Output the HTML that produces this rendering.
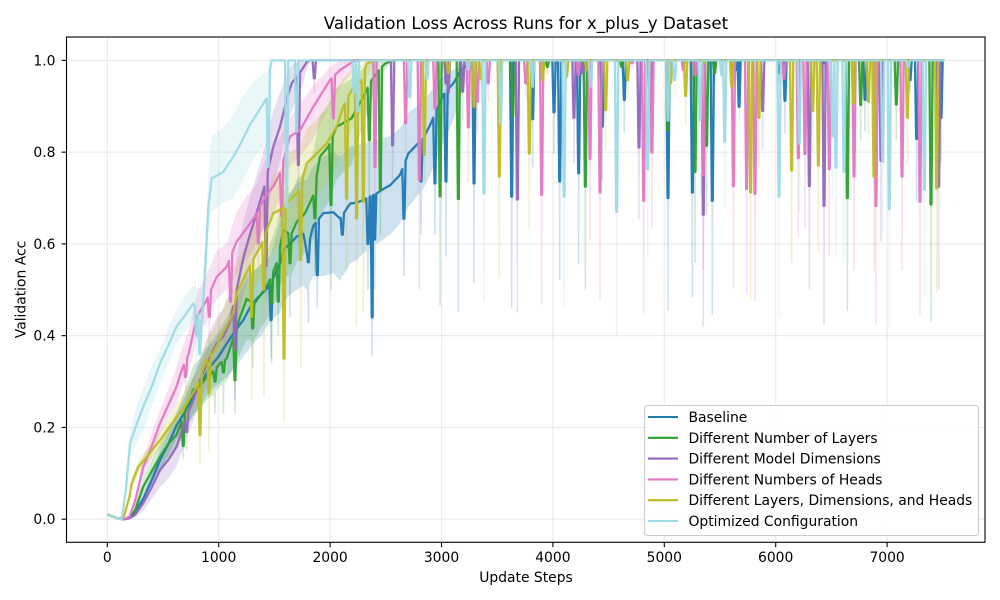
<!DOCTYPE html>
<html>
<head>
<meta charset="utf-8">
<title>Validation Loss Across Runs</title>
<style>
html,body{margin:0;padding:0;background:#fff;}
svg{display:block;}
text{font-family:"DejaVu Sans","Liberation Sans",sans-serif;fill:#000;}
</style>
</head>
<body>
<svg id="chart" xmlns="http://www.w3.org/2000/svg" width="1000" height="600" viewBox="0 0 1000 600">
  <rect x="0" y="0" width="1000" height="600" fill="#fff"/>
  <g id="grid"></g>
  <g id="bands"></g>
  <g id="lines"></g>
  <rect x="66.5" y="37" width="918.5" height="505.3" fill="none" stroke="#000" stroke-width="1.1"/>
  <g id="ticks"></g>
  <text x="526" y="29" text-anchor="middle" font-size="16.67">Validation Loss Across Runs for x_plus_y Dataset</text>
  <text x="526" y="582" text-anchor="middle" font-size="13.89">Update Steps</text>
  <text transform="translate(25.5,289.5) rotate(-90)" text-anchor="middle" font-size="13.89">Validation Acc</text>
  <g id="legend">
    <rect x="644.5" y="405.5" width="334" height="130" rx="3" ry="3" fill="#fff" fill-opacity="0.8" stroke="#ccc" stroke-width="1.1"/>
  </g>
</svg>
<script>
const seriesNames = ['Baseline','Different Number of Layers','Different Model Dimensions','Different Numbers of Heads','Different Layers, Dimensions, and Heads','Optimized Configuration'];
const seriesSlugs = ['baseline','layers','dimensions','heads','combined','optimized'];
const seriesColors = ['#1f77b4','#2ca02c','#9467bd','#e377c2','#bcbd22','#9edae5'];
const xTickValues = [0,1000,2000,3000,4000,5000,6000,7000];
const yTickValues = [0,0.2,0.4,0.6,0.8,1.0];
const yTickLabels = ['0.0','0.2','0.4','0.6','0.8','1.0'];
const finalStep = 7513;

const baselineSteps = [0,50,100,150,200,250,323,400,473,550,622,700,772,850,922,1000,1072,1146,1221,1300,1380,1460,1550,1580,1640,1700,1760,1790,1850,1940,2030,2090,2180,2240,2298,2418,2480,2540,2627,2702,2777,2837,2897,3016,3106,3166,3230,3300];
const baselineMean = [.01,.006,.001,0,.003,.015,.045,.085,.129,.165,.205,.235,.267,.30,.332,.355,.383,.41,.434,.47,.49,.51,.558,.587,.60,.616,.622,.583,.64,.667,.669,.655,.688,.69,.696,.71,.72,.728,.75,.797,.816,.83,.859,.925,.95,.975,.99,1];
const baselineLow = [.008,.004,0,0,.001,.008,.035,.07,.105,.14,.175,.2,.225,.25,.28,.295,.31,.33,.355,.38,.40,.43,.45,.47,.49,.50,.51,.50,.53,.53,.536,.52,.558,.565,.58,.60,.61,.62,.645,.68,.703,.72,.75,.82,.87,.914,.96,1];
const baselineHigh = [.012,.008,.002,0,.005,.022,.055,.10,.15,.19,.235,.27,.31,.35,.385,.41,.44,.475,.51,.54,.555,.57,.65,.68,.71,.732,.74,.74,.77,.79,.80,.79,.812,.815,.82,.826,.83,.835,.852,.885,.9,.915,.93,.965,.98,.986,1,1];
const baselineDipSteps = [1470,1805,1885,2110,2340,2378,2400,2663,2816,2941,3040,3292,3630,3818,4010,4061,4231,4444,4641,5033,5252,5431,5656,5671,6030,6083,6434,6802,7206,7265,7484];
const baselineDipMean = [.434,.56,.532,.62,.60,.44,.61,.655,.736,.732,.736,.732,.703,.872,.887,.736,.754,.856,.914,.7,.712,.694,.979,.899,.972,.912,.994,.914,.957,.829,.875];
const baselineDipLow = [.35,.427,.46,.53,.5,.355,.5,.53,.62,.62,.572,.515,.461,.767,.796,.521,.556,.738,.843,.454,.484,.445,.95,.821,.95,.841,.98,.845,.93,.692,.777];

const layersSteps = [0,50,100,150,200,250,323,400,473,550,622,700,772,832,892,952,1012,1072,1191,1251,1320,1386,1445,1520,1580,1650,1700,1775,1850,1909,1984,2058,2130,2193,2283,2343,2373,2439,2493,2567];
const layersMean = [.01,.006,.001,0,.004,.02,.071,.105,.136,.165,.184,.235,.282,.29,.31,.322,.34,.35,.44,.48,.47,.492,.514,.558,.63,.62,.648,.667,.706,.79,.812,.855,.865,.874,.914,.943,.957,.979,.993,1];
const layersLow = [.008,.004,0,0,.002,.012,.055,.085,.11,.135,.155,.19,.23,.24,.26,.27,.29,.30,.36,.39,.39,.42,.44,.48,.53,.53,.56,.58,.61,.66,.69,.74,.76,.77,.85,.89,.92,.95,.98,1];
const layersHigh = [.012,.008,.002,0,.006,.03,.09,.13,.165,.195,.225,.285,.335,.35,.375,.385,.41,.42,.50,.53,.54,.56,.59,.64,.72,.71,.74,.76,.80,.88,.90,.94,.95,.96,.98,.99,1,1,1,1];
const layersDipSteps = [682,967,1042,1146,1305,1475,1535,1640,1864,2008,2352,2451,2987,3151,3639,3950,4291,4617,5033,5276,5380,5452,6643,6763,7083,7394];
const layersDipMean = [.16,.30,.32,.303,.416,.47,.474,.558,.656,.685,.826,.717,.704,.698,.877,.986,.725,.986,.848,.757,.814,.972,.7,.903,.904,.686];
const layersDipLow = [.13,.23,.23,.23,.33,.34,.4,.44,.54,.5,.68,.62,.465,.452,.82,.97,.5,.97,.8,.559,.664,.95,.454,.825,.826,.43];

const dimensionsSteps = [0,50,100,150,200,250,323,400,473,550,622,712,772,832,922,982,1042,1101,1161,1221,1280,1340,1410,1490,1550,1610,1655,1745,1790,1820];
const dimensionsMean = [.01,.006,.001,0,.002,.01,.035,.07,.107,.13,.158,.223,.26,.303,.354,.383,.398,.43,.50,.569,.62,.667,.725,.812,.855,.914,.95,.979,.996,1];
const dimensionsLow = [.008,.004,0,0,.001,.004,.018,.045,.07,.09,.115,.175,.215,.26,.30,.325,.34,.365,.43,.49,.54,.59,.64,.73,.78,.85,.89,.94,.98,1];
const dimensionsHigh = [.012,.008,.002,0,.004,.016,.052,.095,.14,.17,.2,.27,.31,.35,.41,.44,.46,.50,.57,.65,.70,.75,.81,.89,.93,.97,.99,1,1,1];
const dimensionsDipSteps = [712,1146,1425,1715,1858,2561,3040,3061,3190,3681,4189,4267,4773,4872,5350,5883,6302,6434,6945,7463];
const dimensionsDipMean = [.19,.37,.552,.772,.961,.815,.95,.93,.932,.697,.875,.972,.81,.89,.664,.89,.726,.683,.781,.725];
const dimensionsDipLow = [.15,.26,.48,.60,.93,.738,.90,.90,.87,.45,.774,.95,.654,.80,.42,.805,.502,.423,.605,.5];

const headsSteps = [0,50,100,150,200,250,323,400,473,550,622,667,730,802,892,982,1071,1161,1251,1325,1416,1490,1550,1640,1730,1850,1999,2089,2179,2223];
const headsMean = [.01,.006,.001,0,.006,.04,.114,.16,.209,.25,.289,.325,.36,.44,.478,.528,.55,.605,.634,.66,.703,.725,.754,.834,.848,.899,.957,.979,.993,1];
const headsLow = [.008,.004,0,0,.004,.03,.095,.135,.187,.225,.25,.285,.32,.39,.43,.48,.50,.535,.565,.595,.64,.665,.70,.77,.79,.83,.90,.94,.97,1];
const headsHigh = [.012,.008,.002,0,.008,.05,.135,.19,.238,.285,.333,.37,.41,.49,.535,.585,.60,.67,.705,.725,.78,.81,.834,.875,.905,.945,.985,1,1,1];
const headsDipSteps = [703,916,1107,1356,1565,2029,2403,2678,2801,2941,3241,3322,3420,3756,3899,4228,4333,4423,4710,4815,4889,5171,5276,5350,5620,5739,5814,6075,6203,6263,6481,6703,6900,7134,7295];
const headsDipMean = [.31,.441,.474,.601,.66,.874,.768,.863,.739,.895,.854,.91,.95,.95,.707,.968,.785,.712,.994,.694,.799,.979,.968,.75,.726,.72,.709,.96,.787,.796,.763,.747,.683,.747,.692];
const headsDipLow = [.28,.38,.42,.55,.56,.82,.66,.80,.5,.85,.735,.84,.91,.92,.467,.95,.61,.478,.98,.446,.634,.96,.94,.543,.502,.49,.473,.94,.614,.63,.574,.543,.423,.543,.444];

const combinedSteps = [0,50,100,150,200,219,278,353,473,622,712,802,886,967,1042,1131,1161,1275,1386,1490,1550,1640,1724,1790,1880,1969,2059,2118,2193,2283,2328,2400];
const combinedMean = [.01,.006,.001,.006,.05,.078,.114,.136,.172,.223,.252,.289,.345,.369,.409,.45,.492,.55,.601,.667,.674,.696,.717,.776,.797,.819,.855,.899,.935,.957,.993,1];
const combinedLow = [.008,.004,0,.004,.04,.065,.10,.12,.152,.195,.22,.255,.30,.33,.36,.395,.43,.48,.53,.58,.60,.63,.665,.69,.71,.73,.77,.80,.85,.89,.96,1];
const combinedHigh = [.012,.008,.002,.008,.06,.09,.128,.152,.192,.25,.285,.325,.39,.42,.46,.505,.555,.62,.68,.75,.76,.80,.81,.85,.87,.90,.94,.96,.98,.99,1,1];
const combinedDipSteps = [832,913,1296,1406,1586,1736,2148,2238,2298,2846,3061,3292,3351,3519,3788,3908,4124,4303,4474,4671,4857,5057,5192,5350,5605,5775,5850,6143,6332,6383,6697,6832,6882,7182,7445];
const combinedDipMean = [.183,.274,.441,.50,.35,.565,.699,.656,.692,.794,.972,.899,.96,.747,.797,.957,.965,.979,.892,.957,.979,.95,.923,.994,.943,.712,.875,.76,.89,.771,.906,.91,.747,.875,.721];
const combinedDipLow = [.122,.147,.26,.267,.21,.33,.54,.42,.45,.74,.95,.85,.95,.526,.632,.92,.93,.96,.806,.921,.96,.92,.859,.98,.90,.478,.768,.559,.801,.583,.85,.837,.54,.773,.494];

const optimizedSteps = [0,50,100,130,165,204,260,323,400,473,550,622,700,772,850,880,907,937,990,1041,1131,1200,1281,1360,1430,1454,1475];
const optimizedMean = [.01,.006,.001,0,.06,.165,.205,.245,.29,.34,.38,.42,.445,.47,.43,.55,.68,.743,.75,.757,.79,.82,.86,.89,.917,.97,1];
const optimizedLow = [.008,.004,0,0,.045,.136,.165,.194,.245,.296,.34,.383,.41,.434,.39,.49,.62,.67,.68,.69,.70,.73,.77,.80,.82,.90,1];
const optimizedHigh = [.012,.008,.002,0,.075,.194,.245,.289,.335,.369,.42,.456,.49,.51,.50,.62,.75,.835,.845,.855,.88,.915,.945,.965,.975,1,1];
const optimizedDipSteps = [800,830,1445,1610,1700,2215,2245,2715,2870,3241,3381,3531,3818,4100,4339,4572,4851,5033,5093,5321,5515,5542,6030,6212,6511,6541,6613,6960,7020,7191,7334];
const optimizedDipMean = [.40,.36,.768,.68,.845,.93,.89,.92,.96,.98,.71,.863,.943,.703,.943,.67,.763,.869,.957,.87,.968,.823,.703,.819,.835,.766,.757,.779,.676,.986,.718];
const optimizedDipLow = [.3,.28,.70,.6,.8,.85,.8,.88,.93,.96,.474,.8,.9,.463,.9,.401,.57,.82,.917,.7,.943,.68,.44,.67,.703,.574,.559,.624,.414,.96,.486];

const seriesData = [
  [baselineSteps,baselineMean,baselineLow,baselineHigh,baselineDipSteps,baselineDipMean,baselineDipLow],
  [layersSteps,layersMean,layersLow,layersHigh,layersDipSteps,layersDipMean,layersDipLow],
  [dimensionsSteps,dimensionsMean,dimensionsLow,dimensionsHigh,dimensionsDipSteps,dimensionsDipMean,dimensionsDipLow],
  [headsSteps,headsMean,headsLow,headsHigh,headsDipSteps,headsDipMean,headsDipLow],
  [combinedSteps,combinedMean,combinedLow,combinedHigh,combinedDipSteps,combinedDipMean,combinedDipLow],
  [optimizedSteps,optimizedMean,optimizedLow,optimizedHigh,optimizedDipSteps,optimizedDipMean,optimizedDipLow]
];

const NS = 'http://www.w3.org/2000/svg';
function xScale(step){ return 107.3 + step * 0.1114; }
function yScale(value){ return 519.2 - value * 458.8; }
function valueAt(steps, values, s){
  if (s >= steps[steps.length-1]) return values[values.length-1];
  for (let i = 1; i < steps.length; i++){
    if (s <= steps[i]){
      const t = (s - steps[i-1]) / (steps[i] - steps[i-1]);
      return values[i-1] + t * (values[i] - values[i-1]);
    }
  }
  return values[0];
}
/* outer = half-width of a dip at its shoulders, inner = half-width of its flat bottom (in steps) */
function tracePoints(steps, values, dipSteps, dipValues, outer, inner){
  const pts = [];
  for (let i = 0; i < steps.length; i++){
    let insideDip = false;
    for (let d = 0; d < dipSteps.length; d++){
      if (Math.abs(steps[i] - dipSteps[d]) <= outer) insideDip = true;
    }
    if (!insideDip) pts.push([steps[i], values[i]]);
  }
  for (let d = 0; d < dipSteps.length; d++){
    pts.push([dipSteps[d] - outer, valueAt(steps, values, dipSteps[d] - outer)]);
    if (inner > 0){
      pts.push([dipSteps[d] - inner, dipValues[d]]);
      pts.push([dipSteps[d] + inner, dipValues[d]]);
    } else {
      pts.push([dipSteps[d], dipValues[d]]);
    }
    pts.push([dipSteps[d] + outer, valueAt(steps, values, dipSteps[d] + outer)]);
  }
  pts.push([finalStep, values[values.length-1]]);
  pts.sort(function(a,b){ return a[0]-b[0]; });
  return pts;
}
function toPath(pts){
  return pts.map(function(p){ return xScale(p[0]).toFixed(2) + ',' + yScale(p[1]).toFixed(2); }).join(' ');
}

const gridLayer = document.getElementById('grid');
const ticksLayer = document.getElementById('ticks');
xTickValues.forEach(function(v){
  const gl = document.createElementNS(NS,'line');
  
  
  gl.setAttribute('x1',xScale(v)); gl.setAttribute('x2',xScale(v));
  gl.setAttribute('y1',37); gl.setAttribute('y2',542.3);
  gl.setAttribute('stroke','#b0b0b0'); gl.setAttribute('stroke-opacity','0.25'); gl.setAttribute('stroke-width','1.1');
  gridLayer.appendChild(gl);
  const tk = document.createElementNS(NS,'line');
  
  
  tk.setAttribute('x1',xScale(v)); tk.setAttribute('x2',xScale(v));
  tk.setAttribute('y1',542.3); tk.setAttribute('y2',547.2);
  tk.setAttribute('stroke','#000'); tk.setAttribute('stroke-width','1.1');
  ticksLayer.appendChild(tk);
  const lb = document.createElementNS(NS,'text');
  
  
  lb.setAttribute('x',xScale(v)); lb.setAttribute('y',562);
  lb.setAttribute('text-anchor','middle'); lb.setAttribute('font-size','13.89');
  lb.textContent = String(v);
  ticksLayer.appendChild(lb);
});
yTickValues.forEach(function(v,i){
  const gl = document.createElementNS(NS,'line');
  
  
  gl.setAttribute('x1',66.5); gl.setAttribute('x2',985);
  gl.setAttribute('y1',yScale(v)); gl.setAttribute('y2',yScale(v));
  gl.setAttribute('stroke','#b0b0b0'); gl.setAttribute('stroke-opacity','0.25'); gl.setAttribute('stroke-width','1.1');
  gridLayer.appendChild(gl);
  const tk = document.createElementNS(NS,'line');
  
  
  tk.setAttribute('x1',61.6); tk.setAttribute('x2',66.5);
  tk.setAttribute('y1',yScale(v)); tk.setAttribute('y2',yScale(v));
  tk.setAttribute('stroke','#000'); tk.setAttribute('stroke-width','1.1');
  ticksLayer.appendChild(tk);
  const lb = document.createElementNS(NS,'text');
  
  
  lb.setAttribute('x',55.5); lb.setAttribute('y',yScale(v)+5);
  lb.setAttribute('text-anchor','end'); lb.setAttribute('font-size','13.89');
  lb.textContent = yTickLabels[i];
  ticksLayer.appendChild(lb);
});

const bandLayer = document.getElementById('bands');
const lineLayer = document.getElementById('lines');
const legendLayer = document.getElementById('legend');
seriesData.forEach(function(d,i){
  const lowPts = tracePoints(d[0],d[2],d[4],d[6],10,7);
  const highPts = tracePoints(d[0],d[3],[],[],0,0);
  const band = document.createElementNS(NS,'polygon');
  
  
  band.setAttribute('points',toPath(highPts) + ' ' + toPath(lowPts.slice().reverse()));
  band.setAttribute('fill',seriesColors[i]);
  band.setAttribute('fill-opacity','0.22');
  bandLayer.appendChild(band);

  const line = document.createElementNS(NS,'polyline');
  
  
  line.setAttribute('points',toPath(tracePoints(d[0],d[1],d[4],d[5],15,4)));
  line.setAttribute('fill','none');
  line.setAttribute('stroke',seriesColors[i]);
  line.setAttribute('stroke-width','2.3');
  line.setAttribute('stroke-linejoin','round');
  line.setAttribute('stroke-opacity','0.95');
  lineLayer.appendChild(line);

  const rowY = 417 + i * 20.8;
  const handle = document.createElementNS(NS,'line');
  
  
  handle.setAttribute('x1',648); handle.setAttribute('x2',678);
  handle.setAttribute('y1',rowY); handle.setAttribute('y2',rowY);
  handle.setAttribute('stroke',seriesColors[i]);
  handle.setAttribute('stroke-width','2.08');
  legendLayer.appendChild(handle);
  const label = document.createElementNS(NS,'text');
  
  
  label.setAttribute('x',688.5); label.setAttribute('y',rowY + 5);
  label.setAttribute('font-size','13.89');
  label.textContent = seriesNames[i];
  legendLayer.appendChild(label);
});
</script>
</body>
</html>
